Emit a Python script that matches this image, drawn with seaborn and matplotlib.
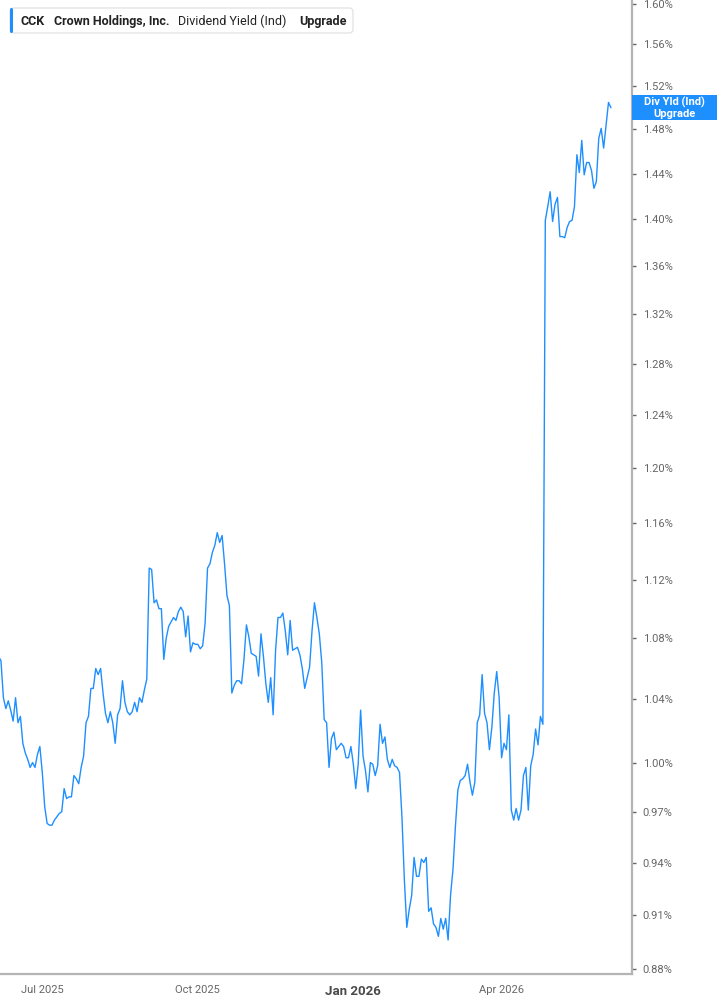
import numpy as np
import pandas as pd
import matplotlib
matplotlib.use("Agg")
import matplotlib.pyplot as plt
import seaborn as sns
from matplotlib.patches import FancyBboxPatch, Rectangle
from matplotlib.ticker import FixedLocator, NullLocator
from matplotlib.transforms import IdentityTransform

# Dividend yield (Ind), in percent, one value per trading session.
# Session 0 = first session of Jul 2025 (x axis is trading days, not calendar days)
first_session = -18
div_yield = [
    1.068, 1.065, 1.041, 1.034, 1.039, 1.033, 1.026, 1.041, 1.025, 1.029,
    1.012, 1.006, 1.002, 0.997, 1.000, 0.997, 1.005, 1.010, 0.994, 0.973,
    0.963, 0.962, 0.962, 0.965, 0.967, 0.969, 0.970, 0.984, 0.978, 0.979,
    0.979, 0.992, 0.990, 0.987, 0.997, 1.004, 1.025, 1.029, 1.047, 1.047,
    1.060, 1.056, 1.060, 1.044, 1.031, 1.025, 1.032, 1.025, 1.012, 1.030,
    1.034, 1.052, 1.038, 1.032, 1.030, 1.032, 1.038, 1.032, 1.041, 1.038,
    1.046, 1.053, 1.128, 1.127, 1.104, 1.106, 1.100, 1.100, 1.066, 1.080,
    1.088, 1.091, 1.094, 1.092, 1.098, 1.101, 1.098, 1.081, 1.095, 1.071,
    1.077, 1.076, 1.076, 1.073, 1.075, 1.090, 1.128, 1.131, 1.139, 1.144,
    1.153, 1.146, 1.151, 1.131, 1.109, 1.102, 1.044, 1.049, 1.052, 1.052,
    1.050, 1.066, 1.089, 1.081, 1.070, 1.069, 1.068, 1.055, 1.083, 1.068,
    1.050, 1.038, 1.054, 1.030, 1.072, 1.094, 1.094, 1.097, 1.085, 1.069,
    1.092, 1.072, 1.073, 1.074, 1.069, 1.060, 1.047, 1.054, 1.061, 1.085,
    1.104, 1.094, 1.083, 1.064, 1.027, 1.025, 0.997, 1.015, 1.019, 1.008,
    1.010, 1.012, 1.010, 1.003, 1.003, 1.010, 0.999, 0.984, 0.999, 1.033,
    1.004, 0.995, 0.982, 1.000, 0.999, 0.992, 0.998, 1.024, 1.012, 1.016,
    1.002, 0.997, 1.002, 0.998, 0.997, 0.994, 0.967, 0.930, 0.903, 0.913,
    0.921, 0.943, 0.932, 0.932, 0.942, 0.940, 0.943, 0.912, 0.914, 0.905,
    0.903, 0.898, 0.908, 0.902, 0.908, 0.896, 0.921, 0.936, 0.961, 0.983,
    0.989, 0.990, 0.992, 0.999, 0.988, 0.980, 0.988, 1.025, 1.030, 1.056,
    1.031, 1.025, 1.008, 1.022, 1.044, 1.058, 1.041, 1.003, 1.012, 1.008,
    1.030, 0.971, 0.965, 0.972, 0.965, 0.971, 0.992, 0.997, 0.971, 0.998,
    1.005, 1.021, 1.011, 1.029, 1.024, 1.399, 1.411, 1.424, 1.398, 1.413,
    1.419, 1.385, 1.385, 1.384, 1.393, 1.398, 1.399, 1.411, 1.457, 1.441,
    1.470, 1.439, 1.450, 1.450, 1.443, 1.427, 1.433, 1.472, 1.481, 1.463,
    1.484, 1.505, 1.500,
]

tick_sessions = [0, 64, 128, 189]
tick_labels = ["Jul 2025", "Oct 2025", "Jan 2026", "Apr 2026"]
y_ticks = [0.88, 0.91, 0.94, 0.97, 1.00, 1.04, 1.08, 1.12, 1.16, 1.20,
           1.24, 1.28, 1.32, 1.36, 1.40, 1.44, 1.48, 1.52, 1.56, 1.60]

df = pd.DataFrame({
    "session": np.arange(first_session, first_session + len(div_yield)),
    "yield": div_yield,
})

blue = "#1e8fff"
W, H = 717, 1005

sns.set_style("white")
plt.rcParams["font.family"] = ["Roboto", "DejaVu Sans"]

fig = plt.figure(figsize=(W / 100, H / 100), dpi=100)
ax = fig.add_axes([0, 31 / H, 631.7 / W, 974 / H])

sns.lineplot(data=df, x="session", y="yield", ax=ax, color=blue, linewidth=1.0)

ax.set_yscale("log")
ax.set_ylim(0.8773, 1.6035)
ax.set_xlim(-17.4, 242.55)
ax.yaxis.set_major_locator(FixedLocator(y_ticks))
ax.yaxis.set_minor_locator(NullLocator())
ax.set_yticklabels([f"{v:.2f}%" for v in y_ticks])
ax.yaxis.tick_right()
ax.set_xticks(tick_sessions)
ax.set_xticklabels(tick_labels)
ax.set_xlabel("")
ax.set_ylabel("")

for side in ["left", "top"]:
    ax.spines[side].set_visible(False)
for side in ["right", "bottom"]:
    ax.spines[side].set_color("#b4b4b4")
    ax.spines[side].set_linewidth(1.6)

ax.tick_params(axis="y", length=3, width=1, color="#666666", labelsize=8,
               labelcolor="#666666", pad=5)
ax.tick_params(axis="x", length=4, width=1, color="#888888", labelsize=8,
               labelcolor="#666666", pad=4)
jan = ax.get_xticklabels()[2]
jan.set_fontweight("bold")
jan.set_fontsize(9.5)
jan.set_color("#4a4a4a")

# header box (pixel coordinates, y measured from top)
ident = IdentityTransform()
fig.patches.append(FancyBboxPatch((10, H - 33), 343, 25,
                                  boxstyle="round,pad=0,rounding_size=4",
                                  fc="white", ec="#e4e4e4", lw=1,
                                  transform=ident, figure=fig, zorder=5))
fig.patches.append(FancyBboxPatch((10, H - 33), 3, 25,
                                  boxstyle="round,pad=0,rounding_size=1.5",
                                  fc=blue, ec="none",
                                  transform=ident, figure=fig, zorder=6))
head_y = H - 21
fig.text(20.5, head_y, "CCK", transform=ident, va="center", fontsize=9,
         fontweight="bold", color="#222222", zorder=7)
fig.text(54, head_y, "Crown Holdings, Inc.", transform=ident, va="center",
         fontsize=9, fontweight="bold", color="#222222", zorder=7)
fig.text(177.7, head_y, "Dividend Yield (Ind)", transform=ident, va="center",
         fontsize=9, color="#222222", zorder=7)
fig.text(299, head_y, "Upgrade", transform=ident, va="center", fontsize=9,
         fontweight="bold", color="#222222", zorder=7)

# last value tag on the right axis
last_y = ax.transData.transform((0, div_yield[-1]))[1]
fig.patches.append(Rectangle((632, last_y - 12.5), W - 632, 25, fc=blue,
                             ec="none", transform=ident, figure=fig, zorder=5))
fig.text(674.5, last_y + 5.5, "Div Yld (Ind)", transform=ident, ha="center",
         va="center", fontsize=8, fontweight="bold", color="white", zorder=6)
fig.text(674.5, last_y - 6, "Upgrade", transform=ident, ha="center",
         va="center", fontsize=8, fontweight="bold", color="white", zorder=6)

fig.savefig("out.png", dpi=100)
